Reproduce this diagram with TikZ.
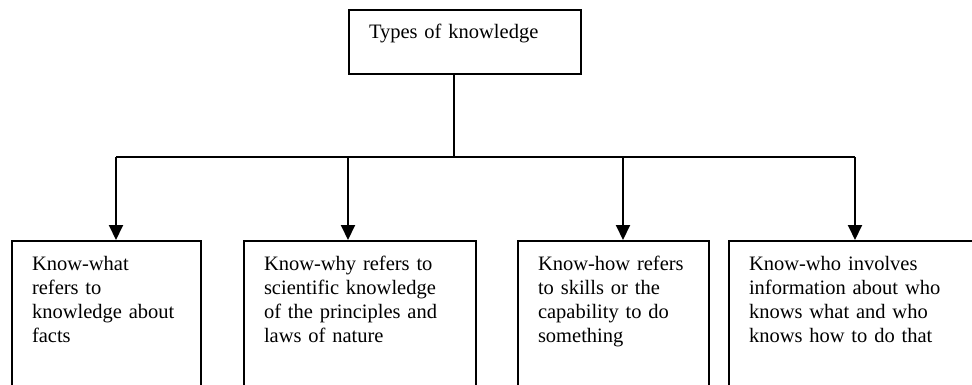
\documentclass[tikz,border=0pt]{standalone}
\usepackage{fontspec}
\setmainfont{Liberation Serif}
\usetikzlibrary{arrows.meta}

\begin{document}
\begin{tikzpicture}[x=1pt,y=-1pt,
	line width=2pt,
	every node/.style={font=\fontsize{20.5}{24.3}\selectfont},
	kbox/.style={draw,anchor=north west,align=left,inner xsep=20pt,inner ysep=0pt,text height=29pt},
	link/.style={-{Triangle[length=15pt,width=14pt]}}]
					\clip (0,0) rectangle (972,385);
					
					\node[kbox,text width=192pt,text depth=35pt] (types) at (348,9) {Types of knowledge};
					
					\node[kbox,text width=149pt,text depth=160pt] (what) at (11,240) {Know-what\\refers to\\knowledge about\\facts};
					\node[kbox,text width=192pt,text depth=160pt] (why) at (243,240) {Know-why refers to\\scientific knowledge\\of the principles and\\laws of nature};
					\node[kbox,text width=151pt,text depth=160pt] (how) at (517,240) {Know-how refers\\to skills or the\\capability to do\\something};
					\node[kbox,text width=220pt,text depth=160pt] (who) at (728,240) {Know-who involves\\information about who\\knows what and who\\knows how to do that};
					
					\coordinate (bus) at (454,157);
					\coordinate (w) at (116,157);
					\coordinate (y) at (348,157);
					\coordinate (h) at (623,157);
					\coordinate (o) at (855,157);
					
					\draw (bus |- types.south) -- (bus);
					\draw (w) -- (o);
					\draw[link] (w) -- (w |- what.north);
					\draw[link] (y) -- (y |- why.north);
					\draw[link] (h) -- (h |- how.north);
					\draw[link] (o) -- (o |- who.north);
					
				\end{tikzpicture}
\end{document}
